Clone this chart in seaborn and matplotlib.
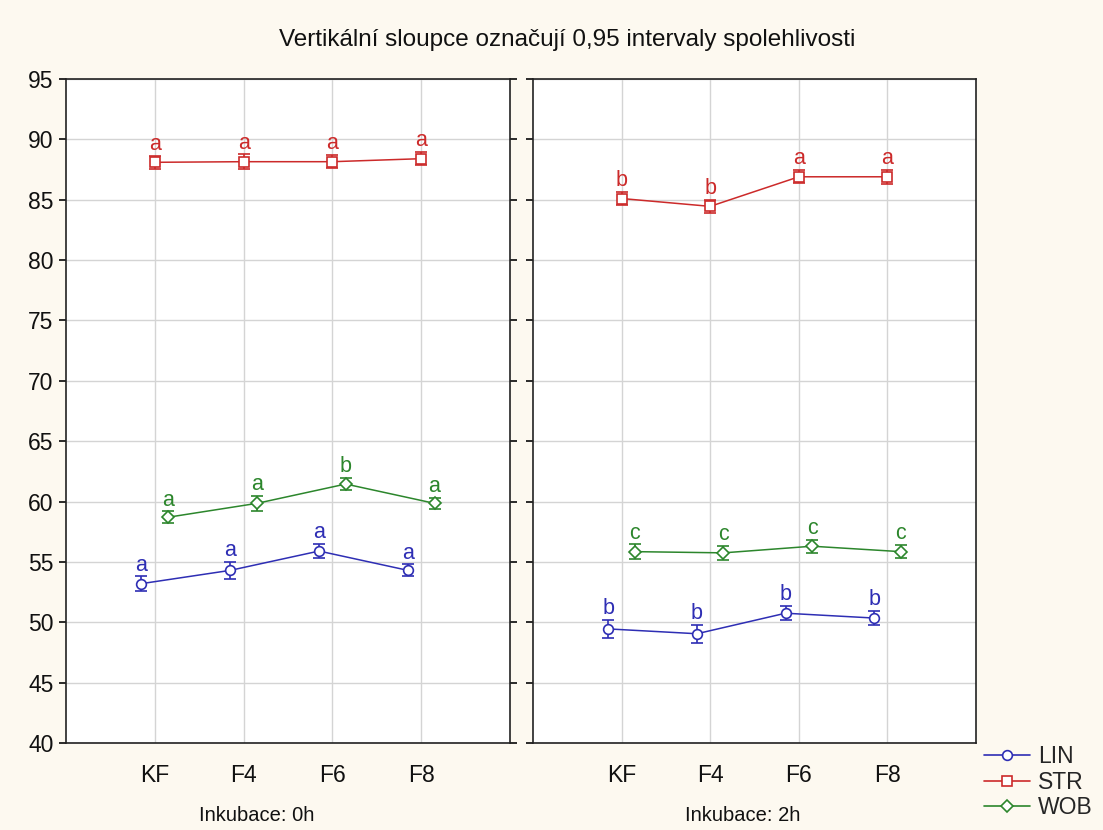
import numpy as np
import pandas as pd
import matplotlib
matplotlib.use("Agg")
import matplotlib.pyplot as plt
import seaborn as sns
from matplotlib.lines import Line2D

# ---------------- data ----------------
categories = ["KF", "F4", "F6", "F8"]
series = ["LIN", "STR", "WOB"]
panels = ["Inkubace: 0h", "Inkubace: 2h"]

lin_0h = [53.2, 54.3, 55.9, 54.3]
str_0h = [88.1, 88.15, 88.15, 88.4]
wob_0h = [58.7, 59.85, 61.45, 59.85]
lin_2h = [49.45, 49.05, 50.75, 50.35]
str_2h = [85.1, 84.45, 86.9, 86.9]
wob_2h = [55.85, 55.75, 56.3, 55.85]

lin_0h_ci = [0.6, 0.7, 0.6, 0.5]
str_0h_ci = [0.55, 0.6, 0.55, 0.55]
wob_0h_ci = [0.5, 0.6, 0.5, 0.45]
lin_2h_ci = [0.75, 0.75, 0.6, 0.6]
str_2h_ci = [0.55, 0.55, 0.55, 0.6]
wob_2h_ci = [0.6, 0.6, 0.55, 0.55]

lin_0h_let = ["a", "a", "a", "a"]
str_0h_let = ["a", "a", "a", "a"]
wob_0h_let = ["a", "a", "b", "a"]
lin_2h_let = ["b", "b", "b", "b"]
str_2h_let = ["b", "b", "a", "a"]
wob_2h_let = ["c", "c", "c", "c"]

title = "Vertikální sloupce označují 0,95 intervaly spolehlivosti"

# ---------------- styling ----------------
colors = {"LIN": "#2e2eb4", "STR": "#cc2a2a", "WOB": "#2c862c"}
markers = {"LIN": "o", "STR": "s", "WOB": "D"}
msizes = {"LIN": 7, "STR": 7, "WOB": 6}
dodge = {"LIN": -0.15, "STR": 0.0, "WOB": 0.15}
bg = "#fdf9f0"

rows = []
data = {
    panels[0]: {"LIN": (lin_0h, lin_0h_ci, lin_0h_let),
                "STR": (str_0h, str_0h_ci, str_0h_let),
                "WOB": (wob_0h, wob_0h_ci, wob_0h_let)},
    panels[1]: {"LIN": (lin_2h, lin_2h_ci, lin_2h_let),
                "STR": (str_2h, str_2h_ci, str_2h_let),
                "WOB": (wob_2h, wob_2h_ci, wob_2h_let)},
}
for p in panels:
    for s in series:
        m, c, l = data[p][s]
        for i, cat in enumerate(categories):
            rows.append({"panel": p, "series": s, "cat": cat, "idx": i,
                         "mean": m[i], "ci": c[i], "letter": l[i]})
df = pd.DataFrame(rows)
df["x"] = df["idx"] + df["series"].map(dodge)

sns.set_theme(style="white")
plt.rcParams["font.family"] = ["Liberation Sans", "DejaVu Sans"]

fig = plt.figure(figsize=(11.03, 8.30), dpi=100, facecolor=bg)
W, H = 1103, 830
def ax_rect(x0, x1, y0, y1):
    return [x0 / W, 1 - y1 / H, (x1 - x0) / W, (y1 - y0) / H]

ax1 = fig.add_axes(ax_rect(66, 510, 79, 743))
ax2 = fig.add_axes(ax_rect(533, 976, 79, 743))
axes = [ax1, ax2]

for ax, p in zip(axes, panels):
    sub = df[df["panel"] == p]
    sns.lineplot(data=sub, x="x", y="mean", hue="series", palette=colors,
                 hue_order=series, ax=ax, legend=False, linewidth=1.1,
                 estimator=None, sort=True, zorder=3)
    for s in series:
        ss = sub[sub["series"] == s]
        ax.errorbar(ss["x"], ss["mean"], yerr=ss["ci"], fmt=markers[s],
                    ms=msizes[s], mfc="white", mec=colors[s], mew=1.2,
                    ecolor=colors[s], elinewidth=1.2, capsize=4.5,
                    capthick=1.2, ls="none", zorder=4)
        for _, r in ss.iterrows():
            ax.annotate(r["letter"], (r["x"], r["mean"] + r["ci"]),
                        xytext=(0, 0.5), textcoords="offset points",
                        ha="center", va="bottom", fontsize=15.5,
                        color=colors[s], zorder=5)
    ax.set_xlim(-1, 4)
    ax.set_ylim(40, 95)
    ax.set_yticks(np.arange(40, 96, 5))
    ax.set_xticks(range(len(categories)))
    ax.set_xticklabels(categories)
    ax.set_xlabel("")
    ax.set_ylabel("")
    ax.grid(True, color="#d4d4d4", linewidth=1.0, zorder=0)
    ax.set_axisbelow(True)
    ax.set_facecolor("white")
    for sp in ax.spines.values():
        sp.set_color("#222222")
        sp.set_linewidth(1.2)
    ax.tick_params(axis="x", length=0, labelsize=16.5, pad=15, colors="#111111")

ax1.tick_params(axis="y", which="both", left=True, right=True, direction="out",
                length=5, labelsize=16.5, colors="#111111", pad=4)
ax2.tick_params(axis="y", left=True, right=False, direction="out", length=5,
                labelleft=False, colors="#111111")

fig.text(567 / W, 1 - 40 / H, title, ha="center", va="center", fontsize=17.5,
         color="#111111")
fig.text(257 / W, 1 - 815 / H, panels[0], ha="center", va="center",
         fontsize=14.5, color="#111111")
fig.text(743 / W, 1 - 815 / H, panels[1], ha="center", va="center",
         fontsize=14.5, color="#111111")

leg_handles = [Line2D([], [], color=colors[s], lw=1.2, marker=markers[s],
                      ms=msizes[s], mfc="white", mec=colors[s], mew=1.2)
               for s in series]
fig.legend(leg_handles, series, loc="upper left",
           bbox_to_anchor=(984 / W, 1 - 745 / H), frameon=False,
           fontsize=16.5, numpoints=1,
           handlelength=2.0, handletextpad=0.35, labelspacing=0.12,
           borderaxespad=0, borderpad=0)

fig.savefig("out.png", dpi=100, facecolor=bg)
